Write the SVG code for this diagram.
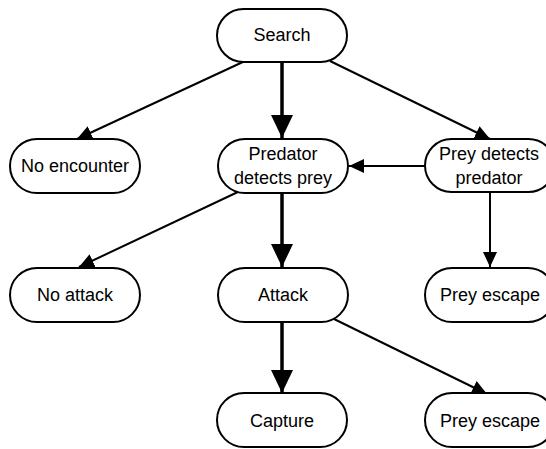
<svg xmlns="http://www.w3.org/2000/svg" width="546" height="449" viewBox="0 0 546 449">
<defs>
<style>
.node rect{fill:#fff;stroke:#000;stroke-width:2}
.node text{font-family:"Liberation Sans",Arial,sans-serif;font-size:18px;fill:#000;text-anchor:middle}
.thin{stroke:#000;stroke-width:2;fill:none;marker-end:url(#ah)}
.thick{stroke:#000;stroke-width:3.5;fill:none;marker-end:url(#ahb)}
</style>
<marker id="ah" markerUnits="userSpaceOnUse" markerWidth="16" markerHeight="16" viewBox="0 0 16 16" refX="15" refY="8" orient="auto">
<path d="M0,1 L15,8 L0,15 Z" fill="#000"/>
</marker>
<marker id="ahb" markerUnits="userSpaceOnUse" markerWidth="24" markerHeight="24" viewBox="0 0 24 24" refX="23" refY="12" orient="auto">
<path d="M0,1 L23,12 L0,23 Z" fill="#000"/>
</marker>
</defs>
<rect width="546" height="449" fill="#fff"/>
<g id="connectors">
<line class="thin" x1="245" y1="61" x2="77" y2="139"/>
<line class="thick" x1="282" y1="62" x2="282" y2="138"/>
<line class="thin" x1="330" y1="61" x2="490" y2="139"/>
<line class="thin" x1="425" y1="166" x2="349" y2="166"/>
<line class="thin" x1="490" y1="192" x2="490" y2="267"/>
<line class="thin" x1="240" y1="191" x2="79" y2="267"/>
<line class="thick" x1="282" y1="193" x2="282" y2="267"/>
<line class="thick" x1="282" y1="322" x2="282" y2="393"/>
<line class="thin" x1="334" y1="319" x2="487" y2="394"/>
</g>
<g id="search" class="node"><rect x="217" y="9" width="130" height="53" rx="26.5"/><text x="282" y="41">Search</text></g>
<g id="no-encounter" class="node"><rect x="10" y="139" width="130" height="54" rx="27"/><text x="75" y="172">No encounter</text></g>
<g id="predator-detects" class="node"><rect x="218" y="139" width="130" height="54" rx="27"/><text x="283" y="160">Predator</text><text x="283" y="184">detects prey</text></g>
<g id="prey-detects" class="node"><rect x="425" y="139" width="130" height="53" rx="26.5"/><text x="489" y="160">Prey detects</text><text x="489" y="184">predator</text></g>
<g id="no-attack" class="node"><rect x="10" y="268" width="130" height="54" rx="27"/><text x="75" y="301">No attack</text></g>
<g id="attack" class="node"><rect x="218" y="268" width="130" height="54" rx="27"/><text x="283" y="301">Attack</text></g>
<g id="prey-escape-1" class="node"><rect x="425" y="268" width="130" height="54" rx="27"/><text x="490" y="301">Prey escape</text></g>
<g id="capture" class="node"><rect x="217" y="393" width="130" height="54" rx="27"/><text x="282" y="427">Capture</text></g>
<g id="prey-escape-2" class="node"><rect x="425" y="393" width="130" height="54" rx="27"/><text x="490" y="427">Prey escape</text></g>
</svg>
